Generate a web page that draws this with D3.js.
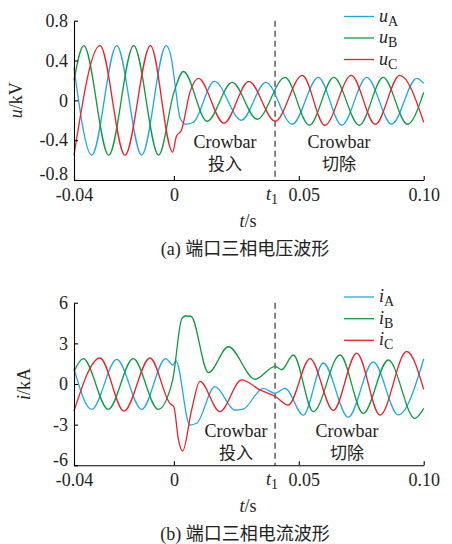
<!DOCTYPE html>
<html>
<head>
<meta charset="utf-8">
<script src="https://cdn.jsdelivr.net/npm/d3@7"></script>
<style>
  body { margin: 0; background: #fff; }
  svg text { font-family: "Liberation Serif", "DejaVu Serif", serif; }
  svg text .cjk, svg text.cjk { font-family: "Noto Sans CJK SC", sans-serif; }
</style>
</head>
<body>
<div id="graph"></div>
<script>
// data: [t (s), value]
var uA = [[-0.04, 0.33], [-0.0329, -0.55], [-0.0229, 0.55], [-0.0129, -0.55], [-0.0031, 0.55],
  [-0.001, 0.42], [0.0005, 0.15], [0.0025, -0.18], [0.0048, -0.24], [0.0078, -0.22], [0.0162, 0.19],
  [0.027, -0.2], [0.0368, 0.18], [0.0474, -0.24], [0.0578, 0.23], [0.0672, -0.25], [0.0772, 0.23],
  [0.0872, -0.24], [0.0972, 0.22], [0.10, 0.17]];
var uB = [[-0.04, 0.2], [-0.0361, 0.55], [-0.0261, -0.55], [-0.0161, 0.55], [-0.0061, -0.55],
  [0.0, 0.08], [0.0038, 0.29], [0.0133, -0.21], [0.0233, 0.18], [0.0333, -0.19], [0.0445, 0.23],
  [0.0542, -0.25], [0.064, 0.23], [0.0742, -0.25], [0.0838, 0.23], [0.0935, -0.24], [0.10, 0.08]];
var uC = [[-0.04, -0.55], [-0.0296, 0.55], [-0.0196, -0.55], [-0.0094, 0.55], [-0.0005, -0.52],
  [0.001, -0.36], [0.003, -0.3], [0.0064, 0.08], [0.0098, 0.22], [0.02, -0.23], [0.03, 0.19],
  [0.0405, -0.21], [0.0514, 0.25], [0.0604, -0.25], [0.071, 0.25], [0.0806, -0.24], [0.0904, 0.25],
  [0.10, -0.22]];

var iA = [[-0.04, 1.13], [-0.0329, -1.87], [-0.0229, 1.82], [-0.0129, -1.87], [-0.0033, 1.88],
  [-0.0003, 1.4], [0.0008, 1.7], [0.0064, -3.03], [0.0091, -2.9], [0.0164, -0.2], [0.0244, -1.92],
  [0.0277, -1.85], [0.0358, -0.32], [0.0405, -0.69], [0.0445, -0.32], [0.0518, -2.3], [0.0598, 1.55],
  [0.0698, -2.45], [0.0798, 1.63], [0.0898, -2.28], [0.10, 1.85]];
var iB = [[-0.04, 0.93], [-0.0363, 1.87], [-0.0263, -1.87], [-0.0163, 1.87], [-0.0063, -1.87],
  [-0.0005, 0.3], [0.0031, 4.8], [0.0045, 5.02], [0.0068, 5.0], [0.0138, 0.84], [0.0218, 2.75],
  [0.0325, 0.35], [0.0405, 1.3], [0.0431, 1.05], [0.0478, 2.14], [0.0558, -2.04], [0.0665, 2.14],
  [0.0758, -2.17], [0.0858, 1.77], [0.0965, -2.53], [0.10, -1.8]];
var iC = [[-0.04, -2.0], [-0.0296, 1.92], [-0.02, -2.0], [-0.0096, 1.92], [-0.0016, -1.43],
  [0.0, -1.7], [0.0018, -4.1], [0.0035, -4.95], [0.0071, -1.9], [0.0104, 0.2], [0.0184, -2.04],
  [0.0271, 0.3], [0.0345, -0.44], [0.0405, -0.9], [0.0458, -1.55], [0.0545, 1.88], [0.0638, -1.95],
  [0.0732, 2.28], [0.0825, -2.3], [0.0932, 2.4], [0.10, -0.4]];

var xTicks = [-0.04, 0, 0.05, 0.10];
var xTickLabels = ["-0.04", "0", "0.05", "0.10"];
var uTicks = [0.8, 0.4, 0, -0.4, -0.8];
var uTickLabels = ["0.8", "0.4", "0", "-0.4", "-0.8"];
var iTicks = [6, 3, 0, -3, -6];
var iTickLabels = ["6", "3", "0", "-3", "-6"];
var t1 = 0.0405;
var phases = ["A", "B", "C"];
var colors = ["#1ea9e6", "#0d9b40", "#ee2128"];

var svg = d3.select("#graph")
            .append("svg")
            .attr("width", 452).attr("height", 544);

var xScale = d3.scaleLinear().domain([-0.04, 0.10]).range([74, 423.7]);

function panel(opts) {
  var yScale = d3.scaleLinear().domain(opts.domain).range([opts.bottom, opts.top]);
  var g = svg.append("g");

  var line = d3.line()
    .x(function(d) { return xScale(d[0]); })
    .y(function(d) { return yScale(d[1]); })
    .curve(d3.curveMonotoneX);

  // dashed t1 marker
  g.append("line")
    .attr("x1", xScale(t1)).attr("x2", xScale(t1))
    .attr("y1", opts.top).attr("y2", opts.bottom)
    .attr("stroke", "#666").attr("stroke-width", 1.6)
    .attr("stroke-dasharray", "6,4");

  opts.series.forEach(function(s, k) {
    g.append("path")
      .datum(s)
      .attr("d", line)
      .attr("fill", "none")
      .attr("stroke", colors[k])
      .attr("stroke-width", 1.3);
  });

  var xAxis = d3.axisBottom(xScale).tickValues(xTicks)
    .tickFormat(function(d, i) { return xTickLabels[i]; })
    .tickSize(-4).tickSizeOuter(0).tickPadding(8);
  var yAxis = d3.axisLeft(yScale).tickValues(opts.ticks)
    .tickFormat(function(d, i) { return opts.tickLabels[i]; })
    .tickSize(-4).tickSizeOuter(0).tickPadding(6);

  var gx = g.append("g")
    .attr("transform", "translate(0," + opts.bottom + ")")
    .call(xAxis);
  var gy = g.append("g")
    .attr("transform", "translate(74,0)")
    .call(yAxis);
  [gx, gy].forEach(function(a) {
    a.attr("font-family", null).attr("font-size", 18);
    a.selectAll("path, line").attr("stroke", "#000").attr("stroke-width", 1.1);
    a.selectAll("text").attr("fill", "#222");
  });
  gx.selectAll(".tick text").filter(function(d) { return d === 0.05; })
    .attr("x", 5);
  // lowest y label sits a little above its tick, clear of the x labels
  gy.selectAll(".tick text").filter(function(d) { return d === opts.domain[0]; })
    .attr("y", -6);

  // t1 label
  var tl = g.append("text")
    .attr("x", xScale(t1) - 3).attr("y", opts.bottom + 20)
    .attr("text-anchor", "middle")
    .attr("font-size", 18).attr("fill", "#222");
  tl.append("tspan").attr("font-style", "italic").text("t");
  tl.append("tspan").attr("dy", 4).attr("font-size", 14).text("1");

  // y label
  var yl = g.append("text")
    .attr("transform", "translate(" + opts.yLabelX + "," + yScale(0) + ") rotate(-90)")
    .attr("text-anchor", "middle")
    .attr("font-size", 18).attr("fill", "#222");
  yl.append("tspan").attr("font-style", "italic").text(opts.sym);
  yl.append("tspan").text(opts.unit);

  // x label
  var xl = g.append("text")
    .attr("x", 248).attr("y", opts.bottom + 47)
    .attr("text-anchor", "middle")
    .attr("font-size", 18).attr("fill", "#222");
  xl.append("tspan").attr("font-style", "italic").text("t");
  xl.append("tspan").text("/s");

  // caption
  var cap = g.append("text")
    .attr("x", 245).attr("y", opts.bottom + 75)
    .attr("text-anchor", "middle")
    .attr("font-size", 18).attr("fill", "#222");
  cap.append("tspan").text(opts.capTag + " ");
  cap.append("tspan").attr("class", "cjk").text(opts.caption);

  // crowbar notes
  opts.notes.forEach(function(n) {
    g.append("text").attr("x", n.x).attr("y", n.y).attr("text-anchor", "middle")
      .attr("font-size", 18).attr("fill", "#222").text("Crowbar");
    g.append("text").attr("class", "cjk").attr("x", n.x).attr("y", n.y + 22).attr("text-anchor", "middle")
      .attr("font-size", 17).attr("fill", "#222").text(n.cn);
  });

  // legend
  phases.forEach(function(p, k) {
    var ly = opts.legendY[k];
    g.append("line").attr("x1", 344).attr("x2", 374).attr("y1", ly).attr("y2", ly)
      .attr("stroke", colors[k]).attr("stroke-width", 1.3);
    var t = g.append("text").attr("x", 379).attr("y", ly + 5)
      .attr("font-size", 18).attr("fill", "#222");
    t.append("tspan").attr("font-style", "italic").text(opts.sym);
    t.append("tspan").attr("dy", 4).attr("font-size", 14).text(p);
  });
}

panel({
  domain: [-0.8, 0.8], top: 20.7, bottom: 180,
  ticks: uTicks, tickLabels: uTickLabels,
  series: [uA, uB, uC], sym: "u", unit: "/kV", yLabelX: 22,
  capTag: "(a)", caption: "端口三相电压波形",
  notes: [{x: 225, y: 148, cn: "投入"}, {x: 339, y: 148, cn: "切除"}],
  legendY: [16.5, 38, 59.5]
});

panel({
  domain: [-6, 6], top: 302.7, bottom: 465.3,
  ticks: iTicks, tickLabels: iTickLabels,
  series: [iA, iB, iC], sym: "i", unit: "/kA", yLabelX: 30,
  capTag: "(b)", caption: "端口三相电流波形",
  notes: [{x: 236, y: 437, cn: "投入"}, {x: 347, y: 437, cn: "切除"}],
  legendY: [297, 318.7, 340.3]
});
</script>
</body>
</html>
